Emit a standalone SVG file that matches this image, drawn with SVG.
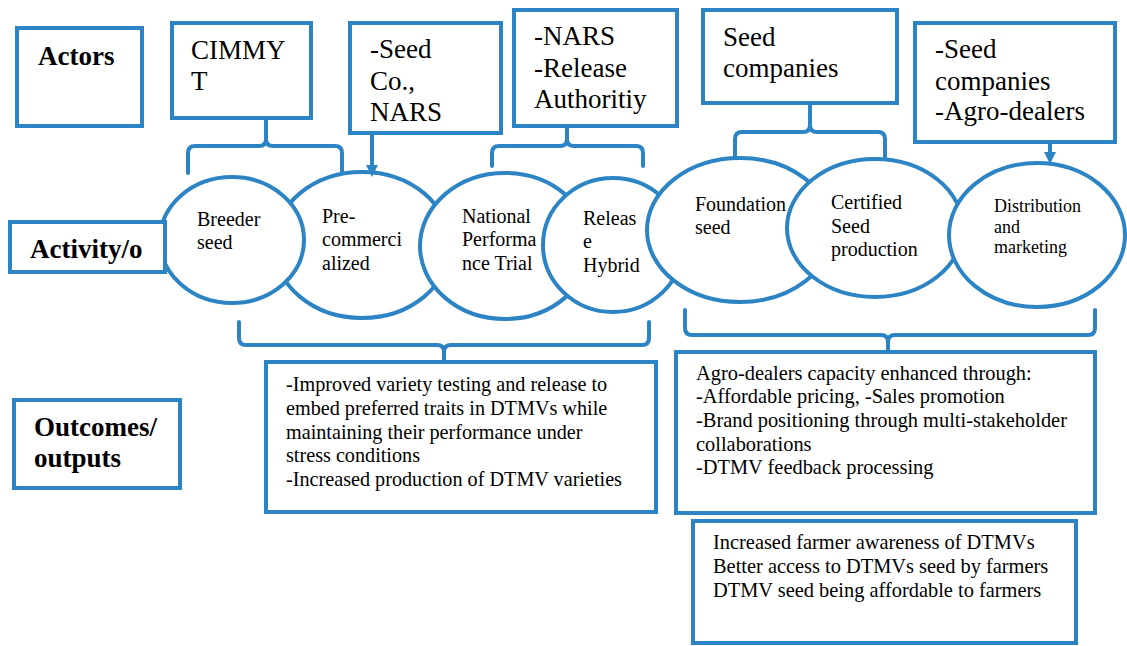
<svg xmlns="http://www.w3.org/2000/svg" width="1127" height="646" viewBox="0 0 1127 646" font-family="'Liberation Serif', 'DejaVu Serif', serif">
<defs>
<style>
.box{fill:#fff;stroke:#2C84C4;stroke-width:4}
.ell{fill:#fff;stroke:#2C84C4;stroke-width:4}
.con{fill:none;stroke:#2C84C4;stroke-width:4;stroke-linecap:round;stroke-linejoin:round}
.head{fill:#2C84C4}
.act{font-size:27px}
.lab{font-size:27px;font-weight:bold}
.et{font-size:20px}
.dt{font-size:18px}
.ot{font-size:20.2px}
.ot2{font-size:20.4px}
</style>
</defs>
<rect width="1127" height="646" fill="#fff"/>
<g id="actors-label"><rect class="box" x="17" y="28" width="125" height="98"/><text class="lab" x="38" y="65">Actors</text></g>
<g id="actor-cimmyt"><rect class="box" x="172" y="23" width="139" height="95"/><text class="act" x="191" y="59">CIMMY</text><text class="act" x="191" y="90">T</text></g>
<g id="actor-seedco"><rect class="box" x="350" y="23" width="151" height="110"/><text class="act" x="370" y="58">-Seed</text><text class="act" x="370" y="90">Co.,</text><text class="act" x="370" y="121">NARS</text></g>
<g id="actor-nars"><rect class="box" x="514" y="10" width="163" height="116"/><text class="act" x="534" y="45">-NARS</text><text class="act" x="534" y="77">-Release</text><text class="act" x="534" y="108">Authoritiy</text></g>
<g id="actor-seedcompanies"><rect class="box" x="703" y="10" width="194" height="93"/><text class="act" x="723" y="46">Seed</text><text class="act" x="723" y="77">companies</text></g>
<g id="actor-agro"><rect class="box" x="915" y="23" width="200" height="119"/><text class="act" x="935" y="58">-Seed</text><text class="act" x="935" y="90">companies</text><text class="act" x="935" y="120">-Agro-dealers</text></g>

<g id="act-precommercialized"><ellipse class="ell" cx="362" cy="245" rx="88" ry="73"/><text class="et" x="322" y="223">Pre-</text><text class="et" x="322" y="246">commerci</text><text class="et" x="322" y="270">alized</text></g>
<g id="act-breeder"><ellipse class="ell" cx="232" cy="240" rx="72" ry="63"/><text class="et" x="197" y="226">Breeder</text><text class="et" x="197" y="249">seed</text></g>
<g id="activity-label"><rect class="box" x="10" y="222" width="155" height="50"/><text class="lab" x="30" y="258">Activity/o</text></g>
<g id="act-npt"><ellipse class="ell" cx="505" cy="246" rx="85" ry="73"/><text class="et" x="462" y="223">National</text><text class="et" x="462" y="246">Performa</text><text class="et" x="462" y="270">nce Trial</text></g>
<g id="act-release"><ellipse class="ell" cx="613" cy="245" rx="70" ry="67"/><text class="et" x="583" y="225">Releas</text><text class="et" x="583" y="248">e</text><text class="et" x="583" y="272">Hybrid</text></g>
<g id="act-foundation"><ellipse class="ell" cx="740" cy="230" rx="93" ry="72"/><text class="et" x="695" y="211">Foundation</text><text class="et" x="695" y="234">seed</text></g>
<g id="act-certified"><ellipse class="ell" cx="875" cy="228" rx="88" ry="69"/><text class="et" x="831" y="209">Certified</text><text class="et" x="831" y="233">Seed</text><text class="et" x="831" y="256">production</text></g>
<g id="act-distribution"><ellipse class="ell" cx="1037" cy="235" rx="88" ry="72"/><text class="dt" x="994" y="212">Distribution</text><text class="dt" x="994" y="233">and</text><text class="dt" x="994" y="253">marketing</text></g>

<g id="outcomes-label"><rect class="box" x="14" y="400" width="166" height="88"/><text class="lab" x="34" y="436">Outcomes/</text><text class="lab" x="34" y="467">outputs</text></g>
<g id="outcome-1"><rect class="box" x="266" y="362" width="390" height="150"/>
<text class="ot" x="286" y="391">-Improved variety testing and release to</text>
<text class="ot" x="286" y="415">embed preferred traits in DTMVs while</text>
<text class="ot" x="286" y="439">maintaining their performance under</text>
<text class="ot" x="286" y="462">stress conditions</text>
<text class="ot" x="286" y="486">-Increased production of DTMV varieties</text></g>
<g id="outcome-2"><rect class="box" x="676" y="352" width="419" height="161"/>
<text class="ot2" x="696" y="380">Agro-dealers capacity enhanced through:</text>
<text class="ot2" x="696" y="403">-Affordable pricing, -Sales promotion</text>
<text class="ot2" x="696" y="427">-Brand positioning through multi-stakeholder</text>
<text class="ot2" x="696" y="451">collaborations</text>
<text class="ot2" x="696" y="474">-DTMV feedback processing</text></g>
<g id="outcome-3"><rect class="box" x="693" y="521" width="383" height="122"/>
<text class="ot2" x="713" y="549">Increased farmer awareness of DTMVs</text>
<text class="ot2" x="713" y="573">Better access to DTMVs seed by farmers</text>
<text class="ot2" x="713" y="597">DTMV seed being affordable to farmers</text></g>

<g id="connectors">
<path class="con" d="M188,173 V153 Q188,146 195,146 H259 Q266,146 266,139 V118 M266,139 Q266,146 273,146 H335 Q342,146 342,153 V173"/>
<path class="con" d="M492,166 V153 Q492,146 499,146 H560 Q567,146 567,139 V126 M567,139 Q567,146 574,146 H636 Q643,146 643,153 V166"/>
<path class="con" d="M735,157 V139 Q735,132 742,132 H803 Q810,132 810,125 V103 M810,125 Q810,132 817,132 H878 Q885,132 885,139 V157"/>
<path class="con" d="M372,133 V166"/>
<polygon class="head" points="366,165 378,165 372,177"/>
<path class="con" d="M1050,142 V153"/>
<polygon class="head" points="1044,152 1056,152 1050,164"/>
<path class="con" d="M239,322 V338 Q239,345 246,345 H437 Q444,345 444,352 V361 M444,352 Q444,345 451,345 H642 Q649,345 649,338 V322"/>
<path class="con" d="M685,310 V328 Q685,335 692,335 H881 Q888,335 888,342 V351 M888,342 Q888,335 895,335 H1088 Q1095,335 1095,328 V310"/>
</g>
</svg>
